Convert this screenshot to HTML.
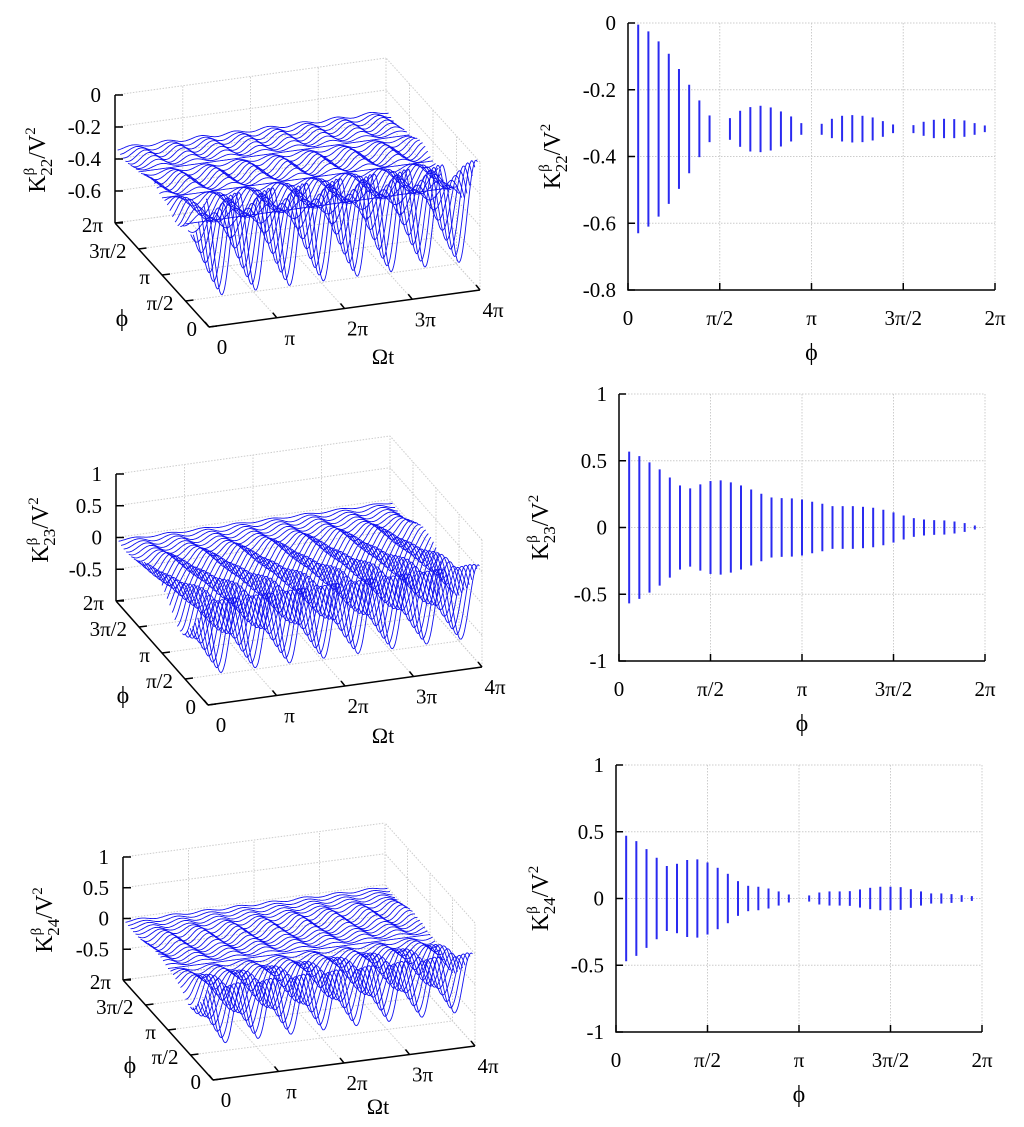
<!DOCTYPE html>
<html><head><meta charset="utf-8"><style>
body{margin:0;background:#fff}
svg{display:block;font-family:"Liberation Serif",serif}
</style></head><body>
<svg id="s" width="1024" height="1127" viewBox="0 0 1024 1127" xmlns="http://www.w3.org/2000/svg"></svg>
<script>
// ---- data ----
const phiCount = 36; // phi index k = 1..35, phi = k*2pi/36
const k22Top = [-0.005,-0.025,-0.055,-0.092,-0.138,-0.185,-0.232,-0.277,-0.318,-0.285,-0.263,-0.252,-0.248,-0.253,-0.265,-0.28,-0.30,-0.318,-0.302,-0.287,-0.278,-0.276,-0.278,-0.283,-0.294,-0.304,-0.318,-0.306,-0.296,-0.29,-0.287,-0.288,-0.292,-0.30,-0.307];
const k22Bot = [-0.63,-0.61,-0.58,-0.542,-0.497,-0.45,-0.402,-0.357,-0.318,-0.35,-0.371,-0.385,-0.387,-0.382,-0.37,-0.355,-0.335,-0.318,-0.335,-0.345,-0.355,-0.358,-0.357,-0.352,-0.341,-0.33,-0.318,-0.33,-0.338,-0.345,-0.345,-0.345,-0.341,-0.335,-0.327];
const k23Amp = [0.568,0.535,0.488,0.435,0.375,0.315,0.293,0.323,0.348,0.353,0.338,0.315,0.285,0.253,0.225,0.22,0.218,0.21,0.193,0.178,0.16,0.16,0.16,0.155,0.148,0.133,0.113,0.09,0.07,0.06,0.055,0.053,0.045,0.033,0.015];
const k24Amp = [0.47,0.43,0.37,0.305,0.243,0.26,0.288,0.293,0.27,0.23,0.185,0.13,0.095,0.088,0.075,0.053,0.03,0,0.023,0.045,0.053,0.053,0.055,0.068,0.08,0.088,0.088,0.085,0.07,0.053,0.038,0.038,0.033,0.025,0.018];
const phiTicks = ["0","π/2","π","3π/2","2π"];
const tTicks = ["0","π","2π","3π","4π"];
const z22Ticks = [0,-0.2,-0.4,-0.6,-0.8];
const z23Ticks = [1,0.5,0,-0.5,-1];

const NS="http://www.w3.org/2000/svg";
const svg=document.getElementById('s');
function el(tag,attrs,parent){const e=document.createElementNS(NS,tag);for(const k in attrs)e.setAttribute(k,attrs[k]);(parent||svg).appendChild(e);return e;}
function txt(x,y,s,anchor,size,parent){const t=el('text',{x:x,y:y,'text-anchor':anchor||'middle','font-size':size||21,fill:'#000'},parent);t.textContent=s;return t;}
function ytitle(x,y,sub,parent){
  const t=el('text',{transform:`translate(${x},${y}) rotate(-90)`,'text-anchor':'middle','font-size':24,fill:'#000'},parent);
  
  
  const a=el('tspan',{},t);a.textContent='K';
  const b=el('tspan',{dy:-11,'font-size':15},t);b.textContent='β';
  const c=el('tspan',{dx:-8,dy:18,'font-size':17},t);c.textContent=sub;
  const d=el('tspan',{dy:-7},t);d.textContent='/V';
  const e=el('tspan',{dy:-10,'font-size':15},t);e.textContent='2';
}

// ---- right 2D charts ----
function chart2d(name,box,ymin,ymax,yticks,series,titleX,sub){
  const g=el('g',{});
  
  
  const xs=v=>box.x0+(box.x1-box.x0)*v/(2*Math.PI);
  const ys=v=>box.y1-(box.y1-box.y0)*(v-ymin)/(ymax-ymin);
  yticks.forEach(v=>{
    el('line',{x1:box.x0,x2:box.x1,y1:ys(v),y2:ys(v),stroke:'#ccc','stroke-dasharray':'1.5,1.5'},g);
    el('line',{x1:box.x0,x2:box.x0+7,y1:ys(v),y2:ys(v),stroke:'#000','stroke-width':1.5},g);
    const t=txt(box.x0-12,ys(v)+7,String(v),'end',21,g);
    
    
  });
  phiTicks.forEach((s,i)=>{
    const x=xs(i*Math.PI/2);
    el('line',{x1:x,x2:x,y1:box.y0,y2:box.y1,stroke:'#ccc','stroke-dasharray':'1.5,1.5'},g);
    el('line',{x1:x,x2:x,y1:box.y1,y2:box.y1-7,stroke:'#000','stroke-width':1.5},g);
    const t=txt(x,box.y1+35,s,'middle',21,g);
    
    
  });
  el('path',{d:`M${box.x0},${box.y0}V${box.y1}H${box.x1}`,stroke:'#000','stroke-width':1.5,fill:'none'},g);
  series.top.forEach((tv,i)=>{
    const bv=series.bot[i];
    if(Math.abs(tv-bv)<1e-4) return;
    const x=xs((i+1)*2*Math.PI/phiCount);
    const b=el('line',{x1:x,x2:x,y1:ys(tv),y2:ys(bv),stroke:'#2a2af0','stroke-width':2},g);
    
    
  });
  const p=txt((box.x0+box.x1)/2,box.y1+70,'ϕ','middle',24,g);
  
  
  ytitle(titleX,(box.y0+box.y1)/2,sub,g);
}
chart2d('chart-k22-phi',{x0:628,x1:995,y0:23,y1:290},-0.8,0,z22Ticks,{top:k22Top,bot:k22Bot},560,'22');
chart2d('chart-k23-phi',{x0:619,x1:985,y0:394,y1:661},-1,1,z23Ticks,{top:k23Amp,bot:k23Amp.map(v=>-v)},548,'23');
chart2d('chart-k24-phi',{x0:616,x1:982,y0:765,y1:1032},-1,1,z23Ticks,{top:k24Amp,bot:k24Amp.map(v=>-v)},548,'24');

// ---- left 3D surfaces ----
function chart3d(name,f,zmin,zmax,zticks,center,amp,sub,lab){
  const g=el('g',{});
  
  
  const P2=2*Math.PI, T4=4*Math.PI;
  const pr=(t,ph,z)=>[f.O[0]+f.T[0]*t/T4+f.P[0]*ph/P2, f.O[1]+f.T[1]*t/T4+f.P[1]*ph/P2+f.Z*(z-zmin)/(zmax-zmin)];
  const L=(a,b,attrs)=>el('line',Object.assign({x1:a[0],y1:a[1],x2:b[0],y2:b[1]},attrs),g);
  const grid={stroke:'#ccc','stroke-dasharray':'1.5,1.5','stroke-width':1};
  for(let i=0;i<5;i++){
    const t=i*Math.PI, ph=i*Math.PI/2, z=zticks[i];
    L(pr(t,P2,zmin),pr(t,P2,zmax),grid);
    L(pr(t,0,zmin),pr(t,P2,zmin),grid);
    L(pr(T4,ph,zmin),pr(T4,ph,zmax),grid);
    L(pr(0,ph,zmin),pr(T4,ph,zmin),grid);
    L(pr(0,P2,z),pr(T4,P2,z),grid);
    L(pr(T4,0,z),pr(T4,P2,z),grid);
  }
  for(let i=amp.length-1;i>=0;i--){
    const ph=(i+1)*P2/phiCount;
    let d='';
    for(let s=0;s<=240;s++){
      const t=T4*s/240;
      const z=center[i]+amp[i]*Math.cos(4*t+1.6*ph);
      const p=pr(t,ph,z);
      d+=(s?'L':'M')+p[0].toFixed(1)+','+p[1].toFixed(1);
    }
    const c=el('path',{d:d,fill:'none',stroke:'#1010f0','stroke-width':0.9},g);
    
    
  }
  const ax={stroke:'#000','stroke-width':1.5};
  L(pr(0,P2,zmin),pr(0,P2,zmax),ax);
  L(pr(0,0,zmin),pr(0,P2,zmin),ax);
  L(pr(0,0,zmin),pr(T4,0,zmin),ax);
  zticks.forEach(z=>{
    const p=pr(0,P2,z);
    L(p,[p[0]+8,p[1]],ax);
    if(z===zmin) return;
    const t=txt(p[0]-14,p[1]+7,String(z),'end',21,g);
    
    
  });
  phiTicks.forEach((s,i)=>{
    const p=pr(0,i*Math.PI/2,zmin);
    L(p,[p[0]+8,p[1]-1],ax);
    const t=txt(p[0]-12,p[1]+9,s,'end',21,g);
    
    
  });
  tTicks.forEach((s,i)=>{
    const p=pr(i*Math.PI,0,zmin);
    L(p,[p[0]-4,p[1]-5],ax);
    const t=txt(p[0]+13,p[1]+27,s,'middle',21,g);
    
    
  });
  const a=txt(lab.om[0],lab.om[1],'Ωt','middle',22,g);
  
  
  const b=txt(lab.phi[0],lab.phi[1],'ϕ','middle',24,g);
  
  
  ytitle(lab.zt[0],lab.zt[1],sub,g);
}
const k22Center=k22Top.map((v,i)=>(v+k22Bot[i])/2);
const k22Half=k22Top.map((v,i)=>(v-k22Bot[i])/2);
chart3d('surface-k22',{O:[209,327],T:[271,-37],P:[-94,-104],Z:-128},-0.8,0,z22Ticks.slice().reverse(),k22Center,k22Half,'22',{om:[383,364],phi:[122,326],zt:[45,160]});
chart3d('surface-k23',{O:[208,705],T:[274,-38],P:[-92,-104],Z:-127},-1,1,z23Ticks.slice().reverse(),k23Amp.map(()=>0),k23Amp,'23',{om:[383,743],phi:[123,703],zt:[48,530]});
chart3d('surface-k24',{O:[213,1080],T:[262,-34],P:[-90,-100],Z:-123},-1,1,z23Ticks.slice().reverse(),k24Amp.map(()=>0),k24Amp,'24',{om:[378,1114],phi:[130,1073],zt:[52,920]});
</script>
</body></html>
